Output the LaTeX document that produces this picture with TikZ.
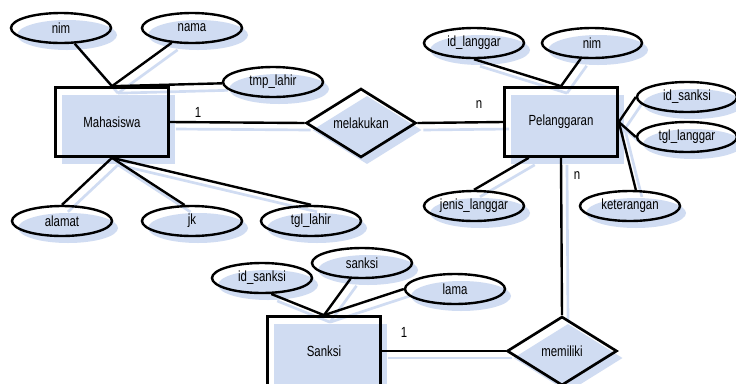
\documentclass[tikz,border=0pt]{standalone}
\usepackage{fontspec}
\setmainfont{Liberation Sans}[FakeStretch=0.78]
\usetikzlibrary{shapes.geometric,shadows}
\definecolor{shadowc}{RGB}{208,220,242}
\pgfdeclarelayer{bg}
\pgfsetlayers{bg,main}
\newcommand\erlink[2]{%
  \begin{pgfonlayer}{bg}\draw[lsh] (#1) -- (#2);\end{pgfonlayer}%
  \draw[conn] (#1) -- (#2);}
\begin{document}
\begin{tikzpicture}[x=0.75pt,y=-0.75pt, font=\fontsize{11}{13}\selectfont,
 shad/.style={drop shadow={shadow xshift=4.5pt,shadow yshift=-5.25pt,fill=shadowc,opacity=1}},
 attr/.style={ellipse,draw,line width=1.8pt,minimum width=75pt,minimum height=22.5pt,inner sep=0pt,shad},
 ent/.style={rectangle,draw,line width=2pt,minimum width=84.75pt,minimum height=51.75pt,inner sep=0pt,shad},
 rel/.style={diamond,draw,line width=2pt,minimum width=82.5pt,minimum height=51.75pt,inner sep=0pt,shad},
 conn/.style={line width=1.8pt},
 lsh/.style={draw=shadowc,line width=2pt,transform canvas={shift={(4.5pt,-5.25pt)}}},
 card/.style={inner sep=0pt}]
\begin{pgfonlayer}{bg}
\fill[white] (0,0) rectangle (736,383);
\end{pgfonlayer}
\useasboundingbox (0,0) rectangle (736,383);
% Mahasiswa
\node[ent] (m) at (112,122) {Mahasiswa};
\node[attr] (a1) at (61,28) {nim};
\node[attr] (a2) at (192,28) {nama};
\node[attr] (a3) at (273,82) {tmp\_lahir};
\node[attr] (a4) at (62,221) {alamat};
\node[attr] (a5) at (192,221) {jk};
\node[attr] (a6) at (311,221) {tgl\_lahir};
\node[rel] (r1) at (361,123) {melakukan};
% Pelanggaran
\node[ent] (p) at (561,122) {Pelanggaran};
\node[attr] (b1) at (474,43) {id\_langgar};
\node[attr] (b2) at (592,43) {nim};
\node[attr] (b3) at (687,97) {id\_sanksi};
\node[attr] (b4) at (687,137) {tgl\_langgar};
\node[attr] (b5) at (474,206) {jenis\_langgar};
\node[attr] (b6) at (630,206) {keterangan};
\node[rel] (r2) at (562,351) {memiliki};
% Sanksi
\node[ent] (s) at (324,351) {Sanksi};
\node[attr] (c1) at (262,278) {id\_sanksi};
\node[attr] (c2) at (362,263) {sanksi};
\node[attr] (c3) at (455,289) {lama};
% cardinalities
\node[card] (k1) at (198,112) {1};
\node[card] (k2) at (479,105) {n};
\node[card] (k3) at (577,176) {n};
\node[card] (k4) at (404,332) {1};
% connectors
\erlink{a1}{m.north}
\erlink{a2}{m.north}
\erlink{a3}{m.north}
\erlink{a4.north}{m.south}
\erlink{a5.115}{m.south}
\erlink{a6.north}{m.south}
\erlink{m.east}{r1.west}
\erlink{r1.east}{p.west}
\erlink{b1.south}{p.north}
\erlink{b2}{p.north}
\erlink{p.east}{b3.west}
\erlink{p.east}{b4.west}
\erlink{p.east}{b6.70}
\erlink{b5.north}{p.-132}
\erlink{p.south}{r2.north}
\erlink{c1.-60}{s.north}
\erlink{c2}{s.north}
\erlink{c3.west}{s.north}
\erlink{s.east}{r2.west}
\end{tikzpicture}
\end{document}
